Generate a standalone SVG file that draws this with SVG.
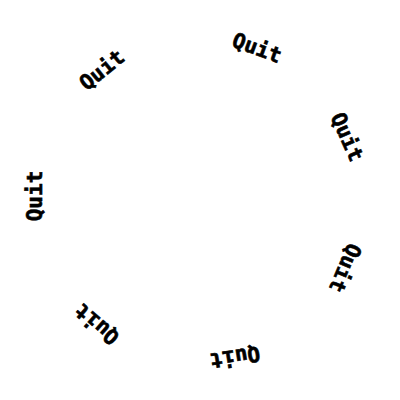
<svg xmlns="http://www.w3.org/2000/svg" width="400" height="400" viewBox="0 0 400 400">
<style>
  .lbl { font-family: "DejaVu Sans Mono", "Liberation Mono", monospace; font-weight: bold; font-size: 21px; fill: #000; stroke: #000; stroke-width: 0.6px; text-anchor: middle; dominant-baseline: central; }
</style>
<rect width="400" height="400" fill="#fff"/>
<g id="label-1"><text class="lbl" transform="translate(257,48) rotate(20)">Quit</text></g>
<g id="label-2"><text class="lbl" transform="translate(102,70) rotate(-39)">Quit</text></g>
<g id="label-3"><text class="lbl" transform="translate(347,137) rotate(66)">Quit</text></g>
<g id="label-4"><text class="lbl" transform="translate(35,196) rotate(-90)">Quit</text></g>
<g id="label-5"><text class="lbl" transform="translate(345,268) rotate(113)">Quit</text></g>
<g id="label-6"><text class="lbl" transform="translate(97,324) rotate(-139)">Quit</text></g>
<g id="label-7"><text class="lbl" transform="translate(235,357) rotate(171)">Quit</text></g>
</svg>
